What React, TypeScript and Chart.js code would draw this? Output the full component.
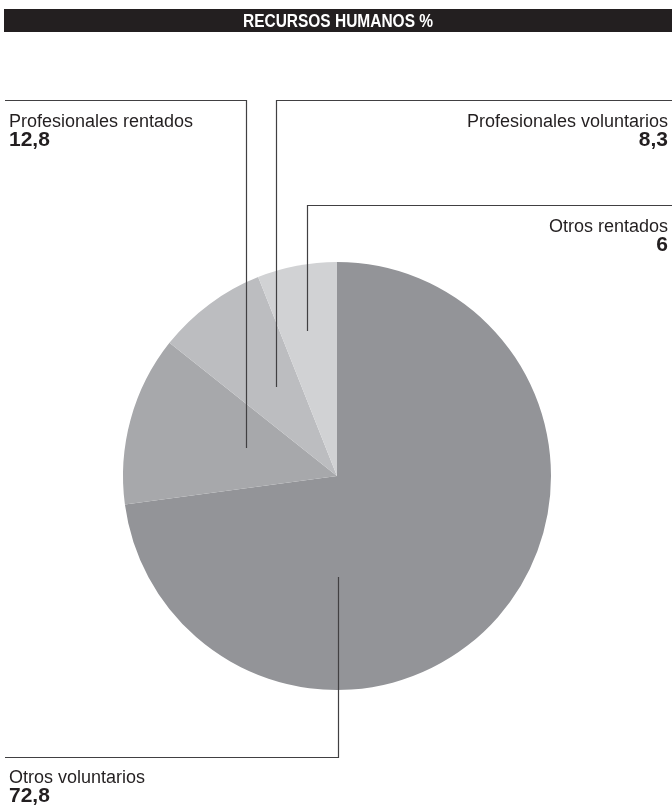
import React, { useEffect, useRef } from "react";
import { Chart, registerables } from "chart.js";

Chart.register(...registerables);

const TITLE = "RECURSOS HUMANOS %";
const categories = ["Otros voluntarios", "Profesionales rentados", "Profesionales voluntarios", "Otros rentados"];
const values = [72.8, 12.8, 8.3, 6];
const colors = ["#939498", "#a7a8ab", "#bcbdc0", "#d1d2d4"];

const fmt = (v: number) => String(v).replace(".", ",");

// callout layout per slice: text anchor + leader polyline
const callouts = [
  { tx: 9, ty: 783, align: "left", path: [[5, 757.5], [338.5, 757.5], [338.5, 577]] },
  { tx: 9, ty: 127, align: "left", path: [[5, 100.5], [246.5, 100.5], [246.5, 448]] },
  { tx: 668, ty: 127, align: "right", path: [[672, 100.5], [276.5, 100.5], [276.5, 387]] },
  { tx: 668, ty: 232, align: "right", path: [[672, 205.5], [307.5, 205.5], [307.5, 331]] },
];

const overlay = {
  id: "overlay",
  afterDraw(chart: any) {
    const ctx = chart.ctx;
    ctx.save();
    // title bar
    ctx.fillStyle = "#231f20";
    ctx.fillRect(4, 9, 668, 23);
    ctx.save();
    ctx.fillStyle = "#ffffff";
    ctx.font = "bold 18px 'Liberation Sans', Arial, sans-serif";
    ctx.textAlign = "center";
    ctx.textBaseline = "alphabetic";
    ctx.translate(338, 27);
    ctx.scale(0.86, 1);
    ctx.fillText(TITLE, 0, 0);
    ctx.restore();
    // leaders
    ctx.strokeStyle = "#414042";
    ctx.lineWidth = 1.2;
    callouts.forEach((c) => {
      ctx.beginPath();
      c.path.forEach((p, i) => (i === 0 ? ctx.moveTo(p[0], p[1]) : ctx.lineTo(p[0], p[1])));
      ctx.stroke();
    });
    // labels
    ctx.fillStyle = "#231f20";
    callouts.forEach((c, i) => {
      ctx.textAlign = c.align;
      ctx.font = "18px 'Liberation Sans', Arial, sans-serif";
      ctx.fillText(categories[i], c.tx, c.ty);
      ctx.font = "bold 21px 'Liberation Sans', Arial, sans-serif";
      ctx.fillText(fmt(values[i]), c.tx, c.ty + 19);
    });
    ctx.restore();
  },
};

export default function App() {
  const ref = useRef<HTMLCanvasElement>(null);
  useEffect(() => {
    document.body.style.margin = "0";
    const chart = new Chart(ref.current!, {
      type: "pie",
      data: {
        labels: categories,
        datasets: [{ data: values, backgroundColor: colors, borderWidth: 0 }],
      },
      options: {
        animation: false,
        responsive: false,
        layout: { padding: { left: 123, right: 121, top: 262, bottom: 119 } },
        plugins: { legend: { display: false }, tooltip: { enabled: false }, title: { display: false } },
      },
      plugins: [overlay],
    });
    return () => chart.destroy();
  }, []);
  return (
    <div style={{ position: "fixed", left: 0, top: 0, width: 672, height: 809, background: "#fff" }}>
      <canvas ref={ref} width={672} height={809} style={{ display: "block" }} />
    </div>
  );
}
